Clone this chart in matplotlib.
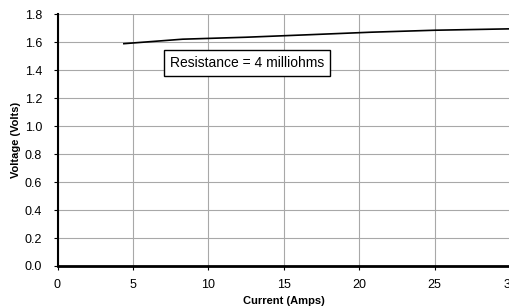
import matplotlib
matplotlib.use("Agg")
import matplotlib.pyplot as plt

plt.rcParams['font.family'] = ['Liberation Sans', 'DejaVu Sans']

current = [4.4, 8.3, 12.5, 16.7, 20.8, 25.0, 30.0]
voltage = [1.590, 1.622, 1.636, 1.654, 1.672, 1.686, 1.696]
x_ticks = [0, 5, 10, 15, 20, 25, 30]
y_ticks = [0.0, 0.2, 0.4, 0.6, 0.8, 1.0, 1.2, 1.4, 1.6, 1.8]

fig = plt.figure(figsize=(5.09, 3.08), dpi=100)
ax = fig.add_axes([57.5 / 509, 42 / 308, 452.5 / 509, 251.7 / 308])

ax.plot(current, voltage, color='black', lw=1.2, zorder=3)

ax.set_xlim(0, 30)
ax.set_ylim(0, 1.8)
ax.set_xticks(x_ticks)
ax.set_yticks(y_ticks)
ax.set_yticklabels([f"{v:.1f}" for v in y_ticks])
ax.grid(True, color='#a8a8a8', lw=0.8)
ax.set_axisbelow(True)

for side in ['top', 'right']:
    ax.spines[side].set_visible(False)
ax.spines['left'].set_linewidth(1.5)
ax.spines['bottom'].set_linewidth(2)
ax.tick_params(direction='out', length=3, width=0.8, labelsize=9)
ax.tick_params(axis='x', pad=6)
ax.tick_params(axis='y', pad=8)

ax.set_xlabel("Current (Amps)", fontsize=8, fontweight='bold', labelpad=4)
ax.set_ylabel("Voltage (Volts)", fontsize=8, fontweight='bold', labelpad=3)

ax.text(12.57, 1.452, "Resistance = 4 milliohms", fontsize=10, ha='center', va='center',
        bbox=dict(boxstyle='square,pad=0.4', fc='white', ec='black', lw=1), zorder=4)

fig.savefig("out.png", dpi=100)
